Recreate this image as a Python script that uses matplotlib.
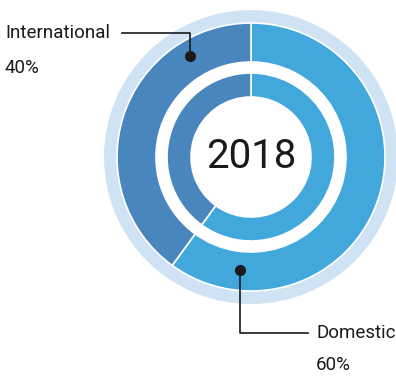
import matplotlib.pyplot as plt
import numpy as np

# shares for the year
categories = ['Domestic', 'International']
shares = [60, 40]
year = '2018'

colors = ['#42A8DC', '#4A86BE']
pale = '#D0E3F5'

W, H = 396, 379
fig = plt.figure(figsize=(W / 100, H / 100), dpi=100)
ax = fig.add_axes([0, 0, 1, 1])

cx, cy = 251, H - 157

# pale outer halo
ax.pie([1], radius=147, center=(cx, cy), colors=[pale],
       wedgeprops=dict(width=13, linewidth=0))
# main ring
ax.pie(shares, radius=134, center=(cx, cy), colors=colors,
       startangle=90, counterclock=False,
       wedgeprops=dict(width=134 - 95, edgecolor='white', linewidth=1.2))
# inner ring
ax.pie(shares, radius=84, center=(cx, cy), colors=colors,
       startangle=90, counterclock=False,
       wedgeprops=dict(width=84 - 60, edgecolor='white', linewidth=1.2))

ax.text(cx, cy, year, ha='center', va='center', fontsize=29,
        family='Roboto', color='#1a1a1a')

lab_font = dict(family='Roboto', fontsize=13.5, color='#1a1a1a')

# International callout
dot_i = (190, H - 56)
ax.plot([dot_i[0], dot_i[0], 122], [dot_i[1], H - 33, H - 33], color='#1a1a1a', lw=1.2)
ax.plot(*dot_i, 'o', color='#1a1a1a', ms=7)
ax.text(5, H - 33, categories[1], ha='left', va='center', **lab_font)
ax.text(5, H - 68, f'{shares[1]}%', ha='left', va='center', **lab_font)

# Domestic callout
dot_d = (240, H - 270)
ax.plot([dot_d[0], dot_d[0], 308], [dot_d[1], H - 333, H - 333], color='#1a1a1a', lw=1.2)
ax.plot(*dot_d, 'o', color='#1a1a1a', ms=7)
ax.text(316, H - 333, categories[0], ha='left', va='center', **lab_font)
ax.text(316, H - 365, f'{shares[0]}%', ha='left', va='center', **lab_font)

ax.set_xlim(0, W)
ax.set_ylim(0, H)
ax.set_aspect('auto')
ax.axis('off')

fig.savefig('out.png', dpi=100)
